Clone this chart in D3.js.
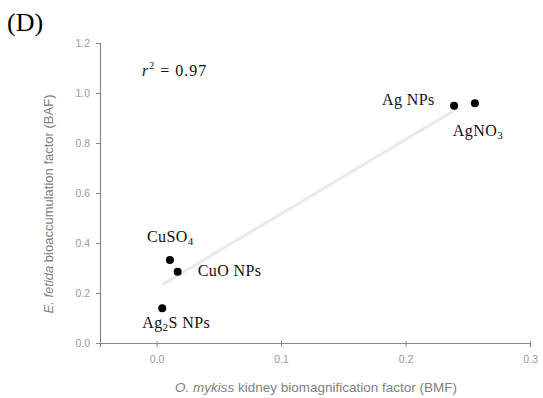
<!DOCTYPE html>
<html>
<head>
<meta charset="utf-8">
<script src="https://cdn.jsdelivr.net/npm/d3@7"></script>
<style>
  body { margin: 0; background: #fff; }
  svg { display: block; }
</style>
</head>
<body>
<script>
// compounds and their values
var names = ["Ag NPs", "AgNO3", "CuSO4", "CuO NPs", "Ag2S NPs"];
var bmf = [0.239, 0.2557, 0.0107, 0.0169, 0.0045];
var baf = [0.949, 0.959, 0.332, 0.285, 0.139];
var xTicks = [0.0, 0.1, 0.2, 0.3];
var yTicks = [0.0, 0.2, 0.4, 0.6, 0.8, 1.0, 1.2];

var width = 543, height = 398;

var svg = d3.select("body").append("svg")
    .attr("width", width).attr("height", height);

var x = d3.scaleLinear().domain([-0.0455, 0.3]).range([100, 530]);
var y = d3.scaleLinear().domain([0, 1.2]).range([343, 43]);

// regression line (least squares over the points)
var mx = d3.mean(bmf), my = d3.mean(baf);
var sxy = d3.sum(bmf, (v, i) => (v - mx) * (baf[i] - my));
var sxx = d3.sum(bmf, v => (v - mx) * (v - mx));
var slope = sxy / sxx, icpt = my - slope * mx;
var x0 = d3.min(bmf), x1 = 0.243;
svg.append("line")
    .attr("x1", x(x0)).attr("y1", y(icpt + slope * x0))
    .attr("x2", x(x1)).attr("y2", y(icpt + slope * x1))
    .attr("stroke", "#e9e9e9")
    .attr("stroke-width", 3);

// axes
var xAxis = d3.axisBottom(x).tickValues(xTicks).tickFormat(d3.format(".1f")).tickSize(4).tickPadding(9);
var yAxis = d3.axisLeft(y).tickValues(yTicks).tickFormat(d3.format(".1f")).tickSize(4).tickPadding(6);

var gx = svg.append("g").attr("transform", "translate(0,343)").call(xAxis);
var gy = svg.append("g").attr("transform", "translate(100,0)").call(yAxis);

[gx, gy].forEach(function(g) {
    g.select(".domain").attr("stroke", "#888").attr("stroke-width", 1.2);
    g.selectAll(".tick line").attr("stroke", "#888");
    g.selectAll(".tick text")
        .attr("fill", "#999")
        .style("font-family", "Liberation Sans, Arial, sans-serif")
        .style("font-size", "10.5px");
});
gx.selectAll(".tick line").attr("y1", -2);

// axis titles
svg.append("text")
    .attr("x", 316).attr("y", 392)
    .attr("text-anchor", "middle")
    .attr("fill", "#808080")
    .style("font-family", "Liberation Sans, Arial, sans-serif")
    .style("font-size", "13.5px")
    .html("<tspan font-style='italic'>O. mykiss</tspan> kidney biomagnification factor (BMF)");

svg.append("text")
    .attr("transform", "translate(53,204) rotate(-90)")
    .attr("text-anchor", "middle")
    .attr("fill", "#808080")
    .style("font-family", "Liberation Sans, Arial, sans-serif")
    .style("font-size", "13px")
    .html("<tspan font-style='italic'>E. fetida</tspan> bioaccumulation factor (BAF)");

// points
svg.selectAll("circle.pt")
    .data(names)
    .enter()
    .append("circle")
    .attr("class", "pt")
    .attr("cx", (d, i) => x(bmf[i]))
    .attr("cy", (d, i) => y(baf[i]))
    .attr("r", 4)
    .attr("fill", "#000");

// point labels
var labelPos = {
    "Ag NPs":   { dx: -72, dy: -1 },
    "AgNO3":    { dx: -22, dy: 33 },
    "CuSO4":    { dx: -23, dy: -18 },
    "CuO NPs":  { dx: 20, dy: 4 },
    "Ag2S NPs": { dx: -20, dy: 20 }
};
var serif = "Liberation Serif, Times New Roman, serif";

svg.selectAll("text.lbl")
    .data(names)
    .enter()
    .append("text")
    .attr("class", "lbl")
    .attr("x", (d, i) => x(bmf[i]) + labelPos[d].dx)
    .attr("y", (d, i) => y(baf[i]) + labelPos[d].dy)
    .attr("fill", "#111")
    .style("font-family", serif)
    .style("font-size", "16px")
    .style("letter-spacing", "0.4px")
    .each(function(d) {
        var t = d3.select(this);
        if (d === "AgNO3") {
            t.append("tspan").text("AgNO");
            t.append("tspan").attr("font-size", "11px").attr("dy", 3).text("3");
        } else if (d === "CuSO4") {
            t.append("tspan").text("CuSO");
            t.append("tspan").attr("font-size", "11px").attr("dy", 3).text("4");
        } else if (d === "Ag2S NPs") {
            t.append("tspan").text("Ag");
            t.append("tspan").attr("font-size", "11px").attr("dy", 3).text("2");
            t.append("tspan").attr("dy", -3).text("S NPs");
        } else {
            t.text(d);
        }
    });

// panel letter and r²
svg.append("text")
    .attr("x", 7).attr("y", 31)
    .attr("fill", "#000")
    .style("font-family", serif)
    .style("font-size", "26px")
    .text("(D)");

svg.append("text")
    .attr("x", 142).attr("y", 76)
    .attr("fill", "#111")
    .style("font-family", serif)
    .style("font-size", "16px")
    .style("letter-spacing", "1px")
    .html("<tspan font-style='italic'>r</tspan><tspan font-size='10px' dy='-7'>2</tspan><tspan dy='7'> = 0.97</tspan>");
</script>
</body>
</html>
